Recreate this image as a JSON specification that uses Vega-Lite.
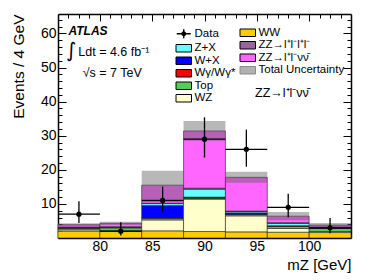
{
  "$schema": "https://vega.github.io/schema/vega-lite/v6.json",
  "width": 293,
  "height": 224,
  "autosize": "none",
  "padding": {"left": 58, "top": 14, "right": 39, "bottom": 42},
  "background": "white",
  "config": {
    "view": {"stroke": null},
    "font": "Liberation Sans",
    "axis": {"labelFont": "Liberation Sans", "titleFont": "Liberation Sans", "labelColor": "#000", "titleColor": "#000", "tickColor": "#000", "domainColor": "#000", "domainWidth": 1.5, "tickWidth": 1, "grid": false, "zindex": 1, "labelFontSize": 14, "titleFontSize": 15, "titleFontWeight": "normal", "labelOverlap": false, "labelFlush": false},
    "legend": {"labelFont": "Liberation Sans", "labelFontSize": 11.5, "labelColor": "#000", "padding": 0, "symbolStrokeColor": "#000", "symbolStrokeWidth": 1, "symbolSize": 100, "symbolOpacity": 1, "rowPadding": -0.5, "labelOffset": 5, "orient": "none"}
  },
  "datasets": {
    "stack": [
      {"lo": 76, "hi": 80, "comp": "WW", "ord": 1, "n": 2.0},
      {"lo": 76, "hi": 80, "comp": "WZ", "ord": 2, "n": 0.4},
      {"lo": 76, "hi": 80, "comp": "Top", "ord": 3, "n": 0.5},
      {"lo": 76, "hi": 80, "comp": "Wγ/Wγ*", "ord": 4, "n": 0.05},
      {"lo": 76, "hi": 80, "comp": "W+X", "ord": 5, "n": 0.05},
      {"lo": 76, "hi": 80, "comp": "Z+X", "ord": 6, "n": 0.1},
      {"lo": 76, "hi": 80, "comp": "ZZ→l⁺l⁻l⁺l⁻", "ord": 7, "n": 0.1},
      {"lo": 76, "hi": 80, "comp": "ZZ→l⁺l⁻νν̄", "ord": 8, "n": 0.7},
      {"lo": 80, "hi": 84, "comp": "WW", "ord": 1, "n": 1.9},
      {"lo": 80, "hi": 84, "comp": "WZ", "ord": 2, "n": 0.2},
      {"lo": 80, "hi": 84, "comp": "Top", "ord": 3, "n": 0.9},
      {"lo": 80, "hi": 84, "comp": "Wγ/Wγ*", "ord": 4, "n": 0.05},
      {"lo": 80, "hi": 84, "comp": "W+X", "ord": 5, "n": 0.05},
      {"lo": 80, "hi": 84, "comp": "Z+X", "ord": 6, "n": 0.1},
      {"lo": 80, "hi": 84, "comp": "ZZ→l⁺l⁻l⁺l⁻", "ord": 7, "n": 0.1},
      {"lo": 80, "hi": 84, "comp": "ZZ→l⁺l⁻νν̄", "ord": 8, "n": 1.0},
      {"lo": 84, "hi": 88, "comp": "WW", "ord": 1, "n": 2.1},
      {"lo": 84, "hi": 88, "comp": "WZ", "ord": 2, "n": 3.2},
      {"lo": 84, "hi": 88, "comp": "Top", "ord": 3, "n": 0.5},
      {"lo": 84, "hi": 88, "comp": "Wγ/Wγ*", "ord": 4, "n": 0.1},
      {"lo": 84, "hi": 88, "comp": "W+X", "ord": 5, "n": 3.6},
      {"lo": 84, "hi": 88, "comp": "Z+X", "ord": 6, "n": 0.6},
      {"lo": 84, "hi": 88, "comp": "ZZ→l⁺l⁻l⁺l⁻", "ord": 7, "n": 0.1},
      {"lo": 84, "hi": 88, "comp": "ZZ→l⁺l⁻νν̄", "ord": 8, "n": 5.3},
      {"lo": 88, "hi": 92, "comp": "WW", "ord": 1, "n": 1.9},
      {"lo": 88, "hi": 92, "comp": "WZ", "ord": 2, "n": 9.5},
      {"lo": 88, "hi": 92, "comp": "Top", "ord": 3, "n": 0.3},
      {"lo": 88, "hi": 92, "comp": "Wγ/Wγ*", "ord": 4, "n": 0.1},
      {"lo": 88, "hi": 92, "comp": "W+X", "ord": 5, "n": 0.2},
      {"lo": 88, "hi": 92, "comp": "Z+X", "ord": 6, "n": 2.3},
      {"lo": 88, "hi": 92, "comp": "ZZ→l⁺l⁻l⁺l⁻", "ord": 7, "n": 0.3},
      {"lo": 88, "hi": 92, "comp": "ZZ→l⁺l⁻νν̄", "ord": 8, "n": 16.8},
      {"lo": 92, "hi": 96, "comp": "WW", "ord": 1, "n": 1.8},
      {"lo": 92, "hi": 96, "comp": "WZ", "ord": 2, "n": 4.7},
      {"lo": 92, "hi": 96, "comp": "Top", "ord": 3, "n": 0.4},
      {"lo": 92, "hi": 96, "comp": "Wγ/Wγ*", "ord": 4, "n": 0.1},
      {"lo": 92, "hi": 96, "comp": "W+X", "ord": 5, "n": 0.3},
      {"lo": 92, "hi": 96, "comp": "Z+X", "ord": 6, "n": 0.4},
      {"lo": 92, "hi": 96, "comp": "ZZ→l⁺l⁻l⁺l⁻", "ord": 7, "n": 0.2},
      {"lo": 92, "hi": 96, "comp": "ZZ→l⁺l⁻νν̄", "ord": 8, "n": 9.9},
      {"lo": 96, "hi": 100, "comp": "WW", "ord": 1, "n": 1.7},
      {"lo": 96, "hi": 100, "comp": "WZ", "ord": 2, "n": 1.1},
      {"lo": 96, "hi": 100, "comp": "Top", "ord": 3, "n": 0.6},
      {"lo": 96, "hi": 100, "comp": "Wγ/Wγ*", "ord": 4, "n": 0.1},
      {"lo": 96, "hi": 100, "comp": "W+X", "ord": 5, "n": 0.1},
      {"lo": 96, "hi": 100, "comp": "Z+X", "ord": 6, "n": 0.7},
      {"lo": 96, "hi": 100, "comp": "ZZ→l⁺l⁻l⁺l⁻", "ord": 7, "n": 0.2},
      {"lo": 96, "hi": 100, "comp": "ZZ→l⁺l⁻νν̄", "ord": 8, "n": 1.9},
      {"lo": 100, "hi": 104, "comp": "WW", "ord": 1, "n": 1.6},
      {"lo": 100, "hi": 104, "comp": "WZ", "ord": 2, "n": 0.3},
      {"lo": 100, "hi": 104, "comp": "Top", "ord": 3, "n": 0.9},
      {"lo": 100, "hi": 104, "comp": "Wγ/Wγ*", "ord": 4, "n": 0.05},
      {"lo": 100, "hi": 104, "comp": "W+X", "ord": 5, "n": 0.05},
      {"lo": 100, "hi": 104, "comp": "Z+X", "ord": 6, "n": 0.2},
      {"lo": 100, "hi": 104, "comp": "ZZ→l⁺l⁻l⁺l⁻", "ord": 7, "n": 0.1},
      {"lo": 100, "hi": 104, "comp": "ZZ→l⁺l⁻νν̄", "ord": 8, "n": 0.6}
    ],
    "unc": [
      {"lo": 76, "hi": 80, "ylo": 3.45, "yhi": 4.35, "cat": "Total Uncertainty"},
      {"lo": 80, "hi": 84, "ylo": 3.8, "yhi": 4.8, "cat": "Total Uncertainty"},
      {"lo": 84, "hi": 88, "ylo": 11.2, "yhi": 19.7, "cat": "Total Uncertainty"},
      {"lo": 88, "hi": 92, "ylo": 28.5, "yhi": 34.3, "cat": "Total Uncertainty"},
      {"lo": 92, "hi": 96, "ylo": 16.2, "yhi": 19.4, "cat": "Total Uncertainty"},
      {"lo": 96, "hi": 100, "ylo": 5.2, "yhi": 7.6, "cat": "Total Uncertainty"},
      {"lo": 100, "hi": 104, "ylo": 3.2, "yhi": 4.4, "cat": "Total Uncertainty"}
    ],
    "obs": [
      {"lo": 76, "hi": 80, "mid": 78, "n": 7, "elo": 4.42, "ehi": 10.77},
      {"lo": 80, "hi": 84, "mid": 82, "n": 2, "elo": 0.71, "ehi": 4.64},
      {"lo": 84, "hi": 88, "mid": 86, "n": 11, "elo": 7.73, "ehi": 15.1},
      {"lo": 88, "hi": 92, "mid": 90, "n": 29, "elo": 23.6, "ehi": 35.4},
      {"lo": 92, "hi": 96, "mid": 94, "n": 26, "elo": 20.9, "ehi": 31.8},
      {"lo": 96, "hi": 100, "mid": 98, "n": 9, "elo": 6.06, "ehi": 13.0},
      {"lo": 100, "hi": 104, "mid": 102, "n": 3, "elo": 1.37, "ehi": 5.9}
    ]
  },
  "layer": [
    {
      "data": {"name": "stack"},
      "transform": [{"stack": "n", "groupby": ["lo"], "sort": [{"field": "ord", "order": "ascending"}], "as": ["y0", "y1"]}],
      "mark": {"type": "bar", "stroke": "#222", "strokeWidth": 0.6},
      "encoding": {
        "x": {"field": "lo", "type": "quantitative", "scale": {"domain": [76, 104], "nice": false, "zero": false},
          "axis": {"orient": "bottom", "values": [77,78,79,80,81,82,83,84,85,86,87,88,89,90,91,92,93,94,95,96,97,98,99,100,101,102,103],
            "tickSize": {"condition": {"test": "datum.value % 5 === 0", "value": -7}, "value": -4},
            "labelExpr": "datum.value % 5 === 0 ? datum.label : ''", "labelPadding": 8,
            "title": "mZ [GeV]", "titleAnchor": "end", "titlePadding": 1}},
        "x2": {"field": "hi"},
        "y": {"field": "y0", "type": "quantitative", "scale": {"domain": [0, 65.7], "nice": false, "zero": true},
          "axis": {"orient": "left", "values": [2,4,6,8,10,12,14,16,18,20,22,24,26,28,30,32,34,36,38,40,42,44,46,48,50,52,54,56,58,60,62,64],
            "tickSize": {"condition": {"test": "datum.value % 10 === 0", "value": -8}, "value": -4},
            "labelExpr": "datum.value % 10 === 0 ? datum.label : ''", "labelPadding": 10,
            "title": "Events / 4 GeV", "titleFontSize": 15.5, "titleX": -39.5, "titleY": 0, "titleAngle": -90, "titleAlign": "right", "titleBaseline": "middle"}},
        "y2": {"field": "y1"},
        "fill": {"field": "comp", "type": "nominal",
          "scale": {"domain": ["Data", "Z+X", "W+X", "Wγ/Wγ*", "Top", "WZ", "WW", "ZZ→l⁺l⁻l⁺l⁻", "ZZ→l⁺l⁻νν̄"],
            "range": ["#000000", "#66ffff", "#0000ff", "#ff0000", "#55cc55", "#ffffcc", "#ffcc00", "#996699", "#ff66ff"]},
          "legend": {"title": null, "values": ["Data", "Z+X", "W+X", "Wγ/Wγ*", "Top", "WZ"], "legendX": 120, "legendY": 14,
            "encode": {"symbols": {"update": {"shape": {"signal": "datum.value === 'Data' ? 'M-1.4,0H1.4M0,-0.9V0.9M-0.35,0A0.35,0.35 0 1,1 0.35,0A0.35,0.35 0 1,1 -0.35,0Z' : 'M-1.55,-0.75H1.55V0.75H-1.55Z'"}, "strokeWidth": {"signal": "datum.value === 'Data' ? 1.4 : 1"}}}}}}
      }
    },
    {
      "data": {"name": "unc"},
      "mark": {"type": "bar", "opacity": 0.42},
      "encoding": {
        "x": {"field": "lo", "type": "quantitative", "scale": {"domain": [76, 104], "nice": false, "zero": false},
          "axis": {"orient": "top", "values": [77,78,79,80,81,82,83,84,85,86,87,88,89,90,91,92,93,94,95,96,97,98,99,100,101,102,103],
            "tickSize": {"condition": {"test": "datum.value % 5 === 0", "value": -7}, "value": -4},
            "labels": false, "title": null}},
        "x2": {"field": "hi"},
        "y": {"field": "ylo", "type": "quantitative", "scale": {"domain": [0, 65.7], "nice": false, "zero": true},
          "axis": {"orient": "right", "values": [2,4,6,8,10,12,14,16,18,20,22,24,26,28,30,32,34,36,38,40,42,44,46,48,50,52,54,56,58,60,62,64],
            "tickSize": {"condition": {"test": "datum.value % 10 === 0", "value": -8}, "value": -4},
            "labels": false, "title": null}},
        "y2": {"field": "yhi"},
        "fill": {"field": "cat", "type": "nominal",
          "scale": {"domain": ["WW", "ZZ→l⁺l⁻l⁺l⁻", "ZZ→l⁺l⁻νν̄", "Total Uncertainty"], "range": ["#ffcc00", "#996699", "#ff66ff", "#555555"]},
          "legend": {"title": null, "legendX": 184, "legendY": 13,
            "encode": {"symbols": {"update": {"shape": {"value": "M-1.55,-0.75H1.55V0.75H-1.55Z"}, "opacity": {"signal": "datum.value === 'Total Uncertainty' ? 0.45 : 1"}}}}}}
      }
    },
    {
      "data": {"name": "obs"},
      "mark": {"type": "rule", "color": "#000", "strokeWidth": 1.3},
      "encoding": {
        "x": {"field": "lo", "type": "quantitative", "scale": {"domain": [76, 104], "nice": false, "zero": false}, "axis": null},
        "x2": {"field": "hi"},
        "y": {"field": "n", "type": "quantitative", "scale": {"domain": [0, 65.7], "nice": false, "zero": true}, "axis": null}
      }
    },
    {
      "data": {"name": "obs"},
      "mark": {"type": "rule", "color": "#000", "strokeWidth": 1.3},
      "encoding": {
        "x": {"field": "mid", "type": "quantitative", "scale": {"domain": [76, 104], "nice": false, "zero": false}, "axis": null},
        "y": {"field": "elo", "type": "quantitative", "scale": {"domain": [0, 65.7], "nice": false, "zero": true}, "axis": null},
        "y2": {"field": "ehi"}
      }
    },
    {
      "data": {"name": "obs"},
      "mark": {"type": "point", "filled": true, "shape": "circle", "size": 28, "color": "#000", "opacity": 1},
      "encoding": {
        "x": {"field": "mid", "type": "quantitative", "scale": {"domain": [76, 104], "nice": false, "zero": false}, "axis": null},
        "y": {"field": "n", "type": "quantitative", "scale": {"domain": [0, 65.7], "nice": false, "zero": true}, "axis": null}
      }
    },
    {
      "data": {"values": [{}]},
      "mark": {"type": "text", "text": "ATLAS", "font": "Liberation Sans", "fontSize": 12, "fontWeight": "bold", "fontStyle": "italic", "align": "left", "baseline": "middle", "color": "#000"},
      "encoding": {
        "x": {"datum": 77.0, "type": "quantitative", "axis": null},
        "y": {"datum": 60.7, "type": "quantitative", "axis": null}
      }
    },
    {
      "data": {"values": [{}]},
      "mark": {"type": "text", "text": "∫", "font": "DejaVu Sans", "fontSize": 20, "align": "center", "baseline": "middle", "color": "#000"},
      "encoding": {
        "x": {"datum": 77.25, "type": "quantitative", "axis": null},
        "y": {"datum": 54.8, "type": "quantitative", "axis": null}
      }
    },
    {
      "data": {"values": [{}]},
      "mark": {"type": "text", "text": "Ldt = 4.6 fb⁻¹", "font": "Liberation Sans", "fontSize": 12.5, "align": "left", "baseline": "middle", "color": "#000"},
      "encoding": {
        "x": {"datum": 77.94, "type": "quantitative", "axis": null},
        "y": {"datum": 54.6, "type": "quantitative", "axis": null}
      }
    },
    {
      "data": {"values": [{}]},
      "mark": {"type": "text", "text": "√s = 7 TeV", "font": "Liberation Sans", "fontSize": 12.5, "align": "left", "baseline": "middle", "color": "#000"},
      "encoding": {
        "x": {"datum": 78.36, "type": "quantitative", "axis": null},
        "y": {"datum": 48.5, "type": "quantitative", "axis": null}
      }
    },
    {
      "data": {"values": [{}]},
      "mark": {"type": "text", "text": "ZZ→l⁺l⁻νν̄", "font": "Liberation Sans", "fontSize": 12.5, "align": "left", "baseline": "middle", "color": "#000"},
      "encoding": {
        "x": {"datum": 94.83, "type": "quantitative", "axis": null},
        "y": {"datum": 42.4, "type": "quantitative", "axis": null}
      }
    }
  ],
  "resolve": {"scale": {"fill": "independent"}, "legend": {"fill": "independent"}, "axis": {"x": "independent", "y": "independent"}}
}
